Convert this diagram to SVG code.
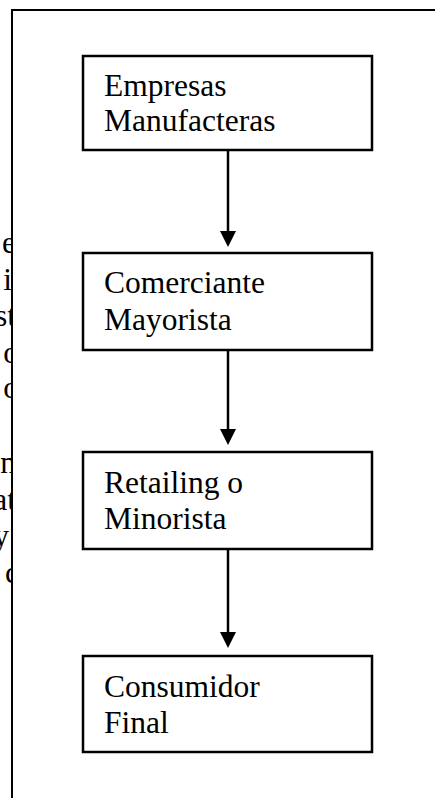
<svg xmlns="http://www.w3.org/2000/svg" width="435" height="798" viewBox="0 0 435 798">
  <style>
    .box { fill: #ffffff; stroke: #000000; stroke-width: 2.5; }
    .lbl { font-family: "Liberation Serif", "Times New Roman", serif; font-size: 31.5px; fill: #000000; }
    .frag { font-family: "Liberation Serif", "Times New Roman", serif; font-size: 31.5px; fill: #000000; text-anchor: end; }
    .conn { stroke: #000000; stroke-width: 2.5; fill: none; }
    .head { fill: #000000; }
    .frame { stroke: #000000; stroke-width: 2; fill: none; }
  </style>
  <defs>
    <clipPath id="leftclip">
      <rect x="0" y="0" width="12" height="798"/>
    </clipPath>
  </defs>
  <rect x="0" y="0" width="435" height="798" fill="#ffffff"/>

  <g id="background-text-fragments" clip-path="url(#leftclip)">
    <text class="frag" x="16" y="253">e</text>
    <text class="frag" x="12" y="290">i</text>
    <text class="frag" x="16" y="326">st</text>
    <text class="frag" x="19" y="363">o</text>
    <text class="frag" x="19" y="398">o</text>
    <text class="frag" x="16" y="473">n</text>
    <text class="frag" x="16" y="510">at</text>
    <text class="frag" x="9" y="546">y</text>
    <text class="frag" x="19" y="583">c</text>
  </g>

  <g id="frame">
    <line class="frame" x1="12" y1="10" x2="435" y2="10"/>
    <line class="frame" x1="12" y1="9" x2="12" y2="798"/>
  </g>

  <g id="connectors">
    <line class="conn" x1="228" y1="150" x2="228" y2="234"/>
    <path class="head" d="M220,231 L236,231 L228,247 Z"/>
    <line class="conn" x1="228" y1="350" x2="228" y2="432"/>
    <path class="head" d="M220,429 L236,429 L228,445 Z"/>
    <line class="conn" x1="228" y1="549" x2="228" y2="635"/>
    <path class="head" d="M220,632 L236,632 L228,648 Z"/>
  </g>

  <g id="node-empresas">
    <rect class="box" x="83" y="56" width="289" height="94"/>
    <text class="lbl" x="104" y="96">Empresas</text>
    <text class="lbl" x="104" y="131">Manufacteras</text>
  </g>

  <g id="node-mayorista">
    <rect class="box" x="83" y="253" width="289" height="97"/>
    <text class="lbl" x="104" y="293">Comerciante</text>
    <text class="lbl" x="104" y="330">Mayorista</text>
  </g>

  <g id="node-minorista">
    <rect class="box" x="83" y="452" width="289" height="97"/>
    <text class="lbl" x="104" y="493">Retailing o</text>
    <text class="lbl" x="104" y="529">Minorista</text>
  </g>

  <g id="node-consumidor">
    <rect class="box" x="83" y="656" width="289" height="96"/>
    <text class="lbl" x="104" y="697">Consumidor</text>
    <text class="lbl" x="104" y="733">Final</text>
  </g>
</svg>
